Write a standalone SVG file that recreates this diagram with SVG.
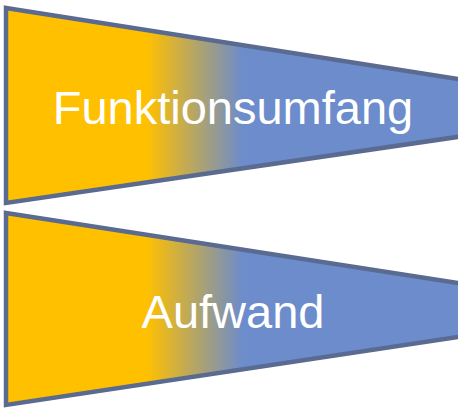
<svg xmlns="http://www.w3.org/2000/svg" width="458" height="408" viewBox="0 0 458 408">
  <style>
    .wedge { stroke: #5A6A90; stroke-width: 4.5; stroke-linejoin: miter; fill: url(#fade); }
    .label { font-family: "Liberation Sans", Arial, sans-serif; font-size: 47px; fill: #FFFFFF; text-anchor: middle; }
  </style>
  <defs>
    <linearGradient id="fade" gradientUnits="userSpaceOnUse" x1="0" y1="0" x2="458" y2="0">
      <stop offset="0.32" stop-color="#FFC000"/>
      <stop offset="0.53" stop-color="#6C8CCB"/>
    </linearGradient>
  </defs>
  <g id="funktionsumfang">
    <polygon class="wedge" points="6,8 464,80 464,136 6,203"/>
    <text class="label" x="233" y="124">Funktionsumfang</text>
  </g>
  <g id="aufwand">
    <polygon class="wedge" points="6,213 464,284 464,336 6,405"/>
    <text class="label" x="233" y="328">Aufwand</text>
  </g>
</svg>
